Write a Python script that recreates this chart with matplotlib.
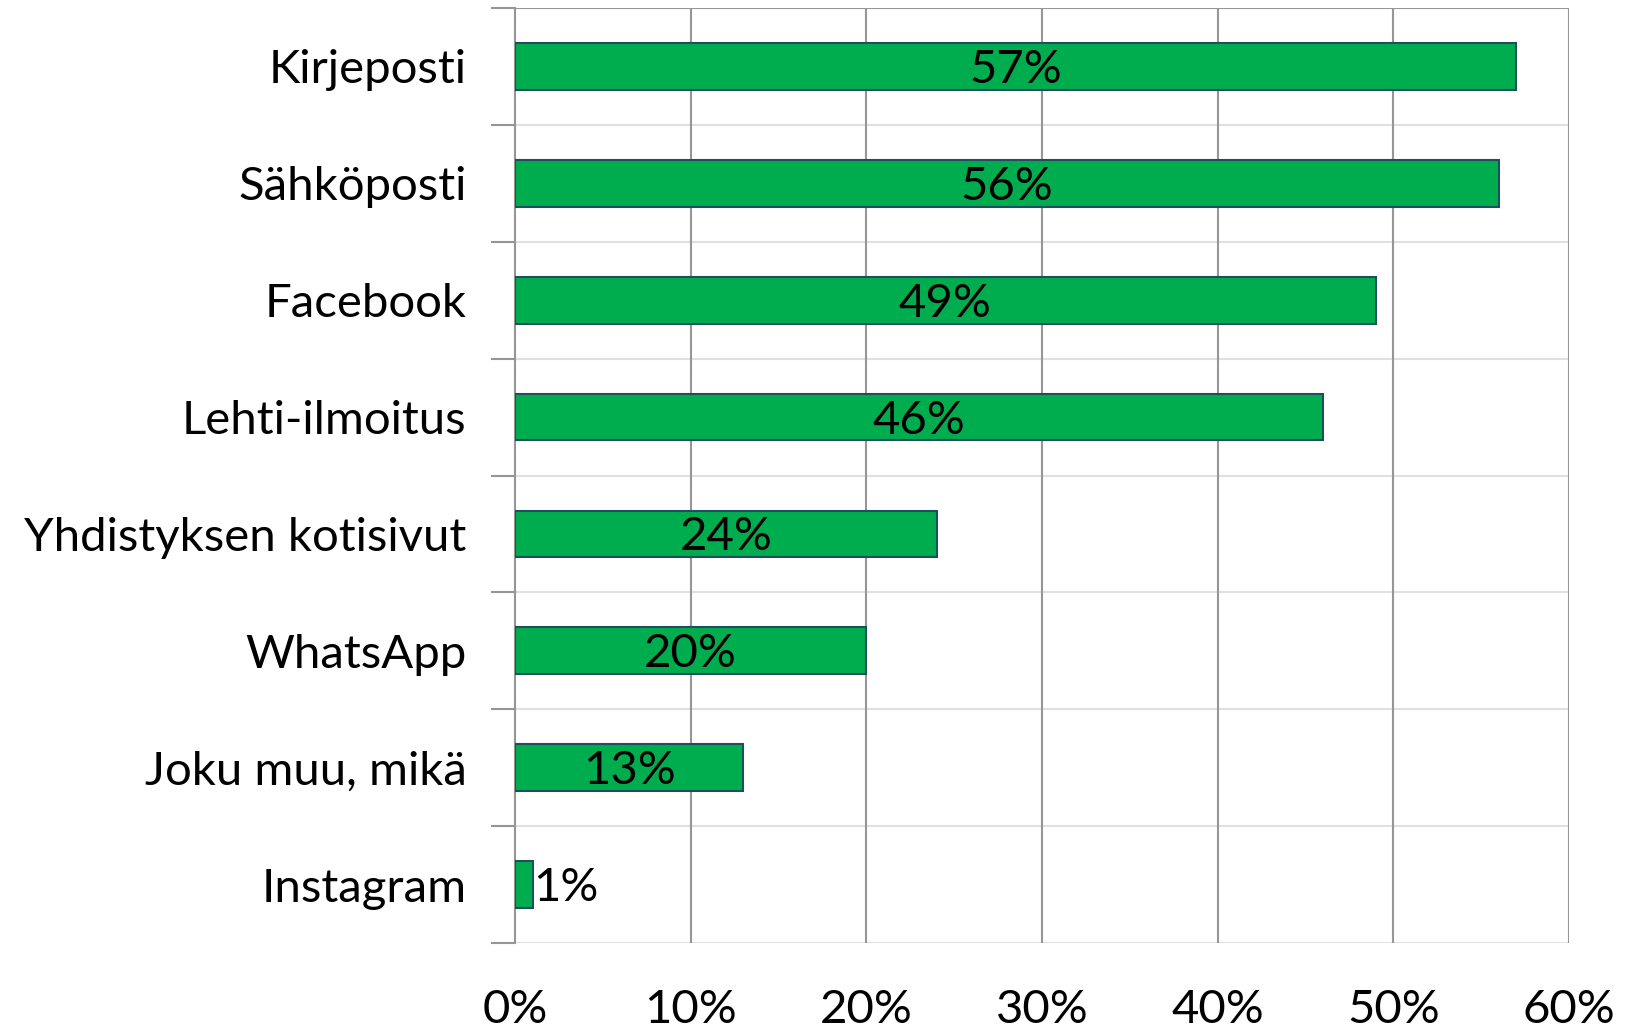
import matplotlib
matplotlib.use('Agg')
import matplotlib.pyplot as plt

# data (top to bottom as in the chart)
categories = ['Kirjeposti', 'Sähköposti', 'Facebook', 'Lehti-ilmoitus',
              'Yhdistyksen kotisivut', 'WhatsApp', 'Joku muu, mikä', 'Instagram']
values = [57, 56, 49, 46, 24, 20, 13, 1]
xticks = [0, 10, 20, 30, 40, 50, 60]

plt.rcParams['font.family'] = ['Lato', 'DejaVu Sans']

fig = plt.figure(figsize=(16.29, 10.34), dpi=100)
ax = fig.add_axes([515/1629, 1 - 943/1034, (1569-515)/1629, (943-8)/1034])

n = len(categories)
ypos = [n - 1 - i for i in range(n)]
ax.barh(ypos, values, height=0.40, color='#00ad4e', edgecolor='#1f4e5f',
        linewidth=1.5, zorder=3)

ax.set_xlim(0, 60)
ax.set_ylim(-0.5, n - 0.5)

# gridlines
for x in xticks[1:]:
    ax.axvline(x, color='#969696', lw=1.5, zorder=1)
for k in range(n):
    ax.axhline(k - 0.5, color='#e0e0e0', lw=1.5, zorder=0)
ax.axhline(n - 0.5, color='#969696', lw=1.5, zorder=1)

for s in ['top', 'right', 'bottom']:
    ax.spines[s].set_visible(False)
ax.spines['left'].set_color('#969696')
ax.spines['left'].set_linewidth(1.5)

ax.set_xticks(xticks)
ax.set_xticklabels([f'{t}%' for t in xticks], fontsize=34)
ax.tick_params(axis='x', length=0, pad=33)

ax.set_yticks([k - 0.5 for k in range(n + 1)], minor=False)
ax.set_yticklabels([])
ax.tick_params(axis='y', length=17, width=1.5, color='#969696')
ax.set_yticks(ypos, minor=True)
ax.set_yticklabels(categories, minor=True, fontsize=34)
ax.tick_params(axis='y', which='minor', length=0, pad=35)

for y, v in zip(ypos, values):
    if v >= 5:
        ax.text(v / 2, y - 0.03, f'{v}%', ha='center', va='center',
                fontsize=34, color='black', zorder=4)
    else:
        ax.text(v + 0.05, y - 0.03, f'{v}%', ha='left', va='center',
                fontsize=34, color='black', zorder=4)

fig.savefig('out.png', dpi=100)
